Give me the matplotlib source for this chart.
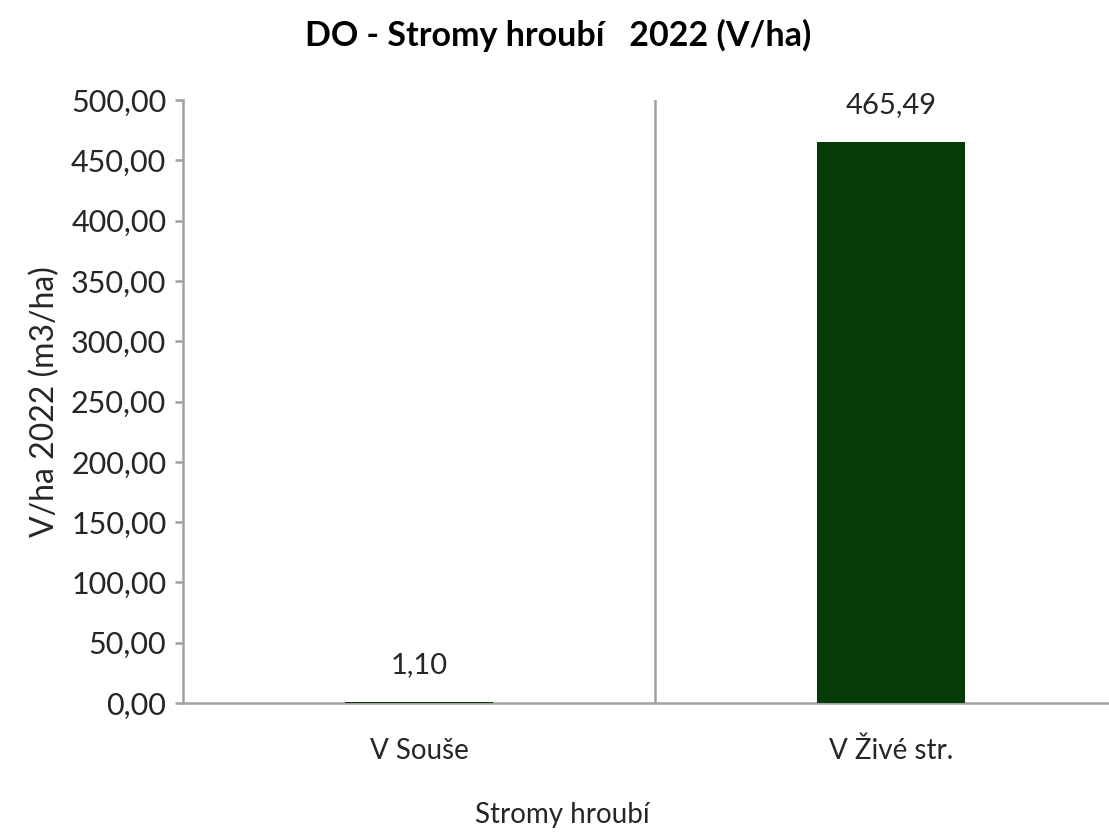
import matplotlib
matplotlib.use("Agg")
import matplotlib.pyplot as plt

categories = ["V Souše", "V Živé str."]
values = [1.10, 465.49]
labels = ["1,10", "465,49"]
yticks = [0, 50, 100, 150, 200, 250, 300, 350, 400, 450, 500]

plt.rcParams['font.family'] = ['Lato', 'DejaVu Sans']

fig = plt.figure(figsize=(11.09, 8.32), dpi=100)
W, H = 1109, 832
left, right, top, bottom = 183, 1127, 100, 703
ax = fig.add_axes([left / W, 1 - bottom / H, (right - left) / W, (bottom - top) / H])

x = [0, 1]
ax.bar(x, values, width=0.315, color="#063a06", zorder=3)
ax.set_xlim(-0.5, 1.5)
ax.set_ylim(0, 500)
ax.set_yticks(yticks)
ax.set_yticklabels([f"{v:.2f}".replace(".", ",") for v in yticks], fontsize=22, color="#262626")
ax.set_xticks(x)
ax.set_xticklabels(categories, fontsize=20, color="#262626")
ax.tick_params(axis='x', length=0, pad=25)
ax.tick_params(axis='y', length=6, width=1.8, color="#a0a0a0", pad=6)

for s in ['top', 'right']:
    ax.spines[s].set_visible(False)
for s in ['left', 'bottom']:
    ax.spines[s].set_color("#a0a0a0")
    ax.spines[s].set_linewidth(1.8)

# divider between categories
ax.axvline(0.5, color="#a0a0a0", linewidth=1.8, zorder=1)

for xi, v, lab in zip(x, values, labels):
    ax.annotate(lab, (xi, v), xytext=(0, 17), textcoords="offset points",
                ha="center", va="bottom", fontsize=21, color="#262626")

ax.set_ylabel("V/ha 2022 (m3/ha)", fontsize=23, color="#262626", labelpad=8)
fig.text(562 / W, 1 - 815 / H, "Stromy hroubí", ha="center", va="center", fontsize=20, color="#262626")
fig.text(558 / W, 1 - 35 / H, "DO - Stromy hroubí   2022 (V/ha)", ha="center", va="center",
         fontsize=24.5, fontweight="bold", color="black")

fig.savefig("out.png", dpi=100)
